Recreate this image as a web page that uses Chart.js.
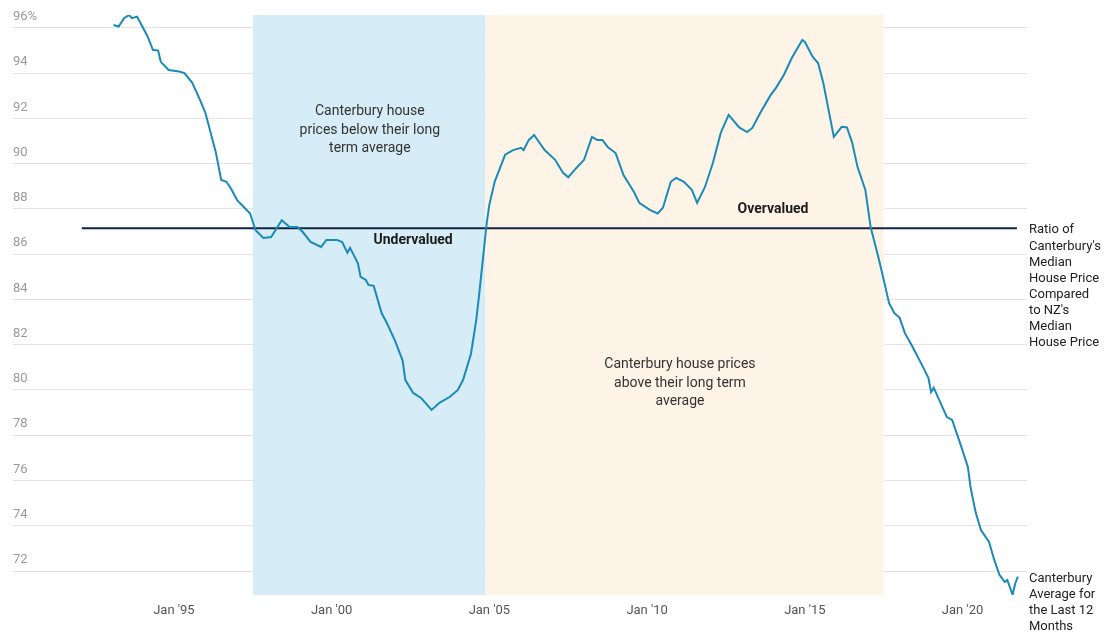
<!DOCTYPE html>
<html>
<head>
<meta charset="utf-8">
<script src="https://cdn.jsdelivr.net/npm/chart.js@4.4.0/dist/chart.umd.min.js"></script>
<style>
    html, body { margin: 0; padding: 0; background: #ffffff; }
    #wrap { position: relative; width: 1110px; height: 635px; }
</style>
</head>
<body>
<div id="wrap"><canvas id="ratioChart"></canvas></div>
<script>
// month of observation and ratio (%) of Canterbury median house price to NZ median
const months = [
    '1993-02','1993-04','1993-06','1993-08','1993-09','1993-11','1994-01','1994-03','1994-05','1994-07',
    '1994-08','1994-11','1995-03','1995-05','1995-08','1995-11','1996-01','1996-03','1996-05','1996-07',
    '1996-09','1996-11','1997-01','1997-02','1997-06','1997-08','1997-11','1998-02','1998-06','1998-09',
    '1998-12','1999-02','1999-05','1999-09','1999-11','2000-03','2000-05','2000-07','2000-08','2000-11',
    '2000-12','2001-02','2001-03','2001-05','2001-08','2001-10','2002-01','2002-04','2002-05','2002-08',
    '2002-11','2003-03','2003-06','2003-10','2004-01','2004-03','2004-06','2004-08','2004-09','2004-11',
    '2004-12','2005-01','2005-03','2005-07','2005-10','2006-01','2006-02','2006-04','2006-06','2006-10',
    '2007-02','2007-05','2007-07','2007-10','2008-01','2008-04','2008-06','2008-08','2008-10','2009-01',
    '2009-04','2009-08','2009-10','2010-02','2010-05','2010-07','2010-10','2010-12','2011-03','2011-06',
    '2011-08','2011-11','2012-02','2012-05','2012-08','2012-12','2013-03','2013-05','2013-08','2013-12',
    '2014-02','2014-05','2014-08','2014-12','2015-01','2015-04','2015-06','2015-08','2015-10','2015-12',
    '2016-03','2016-05','2016-07','2016-09','2016-12','2017-02','2017-05','2017-07','2017-09','2017-11',
    '2018-01','2018-03','2018-06','2018-10','2018-12','2019-01','2019-02','2019-07','2019-09','2019-12',
    '2020-03','2020-04','2020-06','2020-08','2020-11','2021-01','2021-03','2021-05','2021-06','2021-08',
    '2021-09','2021-10'
];
const ratio = [
    96.13, 96.06, 96.43, 96.57, 96.43, 96.5, 96.06, 95.62, 95.03, 95.0,
    94.5, 94.14, 94.07, 94.0, 93.57, 92.8, 92.24, 91.36, 90.47, 89.28,
    89.2, 88.84, 88.4, 88.27, 87.8, 87.07, 86.72, 86.76, 87.5, 87.2,
    87.2, 86.98, 86.54, 86.32, 86.63, 86.63, 86.54, 86.06, 86.28, 85.6,
    85.0, 84.86, 84.64, 84.6, 83.4, 82.96, 82.2, 81.3, 80.45, 79.87,
    79.65, 79.12, 79.43, 79.7, 80.0, 80.45, 81.6, 83.1, 84.1, 86.3,
    87.4, 88.2, 89.2, 90.4, 90.6, 90.7, 90.6, 91.05, 91.27, 90.6,
    90.17, 89.6, 89.4, 89.8, 90.17, 91.18, 91.05, 91.05, 90.74, 90.47,
    89.5, 88.75, 88.27, 87.96, 87.8, 88.05, 89.2, 89.37, 89.2, 88.84,
    88.27, 88.97, 90.03, 91.36, 92.16, 91.6, 91.4, 91.58, 92.24, 93.04,
    93.35, 93.92, 94.67, 95.47, 95.38, 94.72, 94.45, 93.57, 92.38, 91.18,
    91.63, 91.6, 90.92, 89.86, 88.84, 87.2, 85.84, 84.86, 83.85, 83.4,
    83.2, 82.52, 81.9, 81.0, 80.53, 79.9, 80.1, 78.8, 78.68, 77.66,
    76.6, 75.7, 74.57, 73.8, 73.3, 72.5, 71.83, 71.52, 71.6, 70.95,
    71.45, 71.75
];

// long term average line
const averageYears = [1992.08, 2021.72];
const averageValues = [87.15, 87.15];

// shaded periods (decimal years)
const belowPeriod = [1997.5, 2004.87];
const abovePeriod = [2004.87, 2017.5];

const yTicks = [72, 74, 76, 78, 80, 82, 84, 86, 88, 90, 92, 94, 96];
const xTicks = [1995, 2000, 2005, 2010, 2015, 2020];
const xTickLabels = ["Jan '95", "Jan '00", "Jan '05", "Jan '10", "Jan '15", "Jan '20"];

function toYear(m) {
    const parts = m.split('-');
    return Number(parts[0]) + (Number(parts[1]) - 1) / 12;
}

const linePoints = months.map((m, i) => ({ x: toYear(m), y: ratio[i] }));
const averagePoints = averageYears.map((yr, i) => ({ x: yr, y: averageValues[i] }));

// text notes, anchored in data coordinates
const notes = [
    { x: 2001.21, y: 92.29, lines: ['Canterbury house', 'prices below their long', 'term average'], bold: false, align: 'center', step: 18.5 },
    { x: 2011.04, y: 81.11, lines: ['Canterbury house prices', 'above their long term', 'average'], bold: false, align: 'center', step: 18.5 },
    { x: 2002.58, y: 86.59, lines: ['Undervalued'], bold: true, align: 'center', step: 18 },
    { x: 2013.99, y: 87.96, lines: ['Overvalued'], bold: true, align: 'center', step: 18 }
];
const sideNotes = [
    { y: 87.15, lines: ['Ratio of', "Canterbury's", 'Median', 'House Price', 'Compared', "to NZ's", 'Median', 'House Price'] },
    { y: 71.75, lines: ['Canterbury', 'Average for', 'the Last 12', 'Months'] }
];

const bandsPlugin = {
    id: 'bands',
    beforeDatasetsDraw(chart) {
        const { ctx, chartArea, scales } = chart;
        const x = scales.x;
        ctx.save();
        ctx.fillStyle = '#d6ecf6';
        let a = x.getPixelForValue(belowPeriod[0]), b = x.getPixelForValue(belowPeriod[1]);
        ctx.fillRect(a, chartArea.top, b - a, chartArea.bottom - chartArea.top);
        ctx.fillStyle = '#fdf4e7';
        a = x.getPixelForValue(abovePeriod[0]);
        b = x.getPixelForValue(abovePeriod[1]);
        ctx.fillRect(a, chartArea.top, b - a, chartArea.bottom - chartArea.top);
        ctx.restore();
    },
    afterDatasetsDraw(chart) {
        const { ctx, scales } = chart;
        ctx.save();
        ctx.textBaseline = 'middle';
        notes.forEach(n => {
            ctx.font = (n.bold ? 'bold ' : '') + '14px Roboto, sans-serif';
            ctx.fillStyle = n.bold ? '#1c1c1c' : '#333333';
            ctx.textAlign = n.align;
            const px = scales.x.getPixelForValue(n.x);
            const py = scales.y.getPixelForValue(n.y);
            n.lines.forEach((t, i) => ctx.fillText(t, px, py + i * n.step));
        });
        ctx.font = '13px Roboto, sans-serif';
        ctx.fillStyle = '#222222';
        ctx.textAlign = 'left';
        const right = chart.chartArea.right + 2;
        sideNotes.forEach(s => {
            const py = scales.y.getPixelForValue(s.y) + 2;
            s.lines.forEach((t, i) => ctx.fillText(t, right, py + i * 16.1));
        });
        ctx.restore();
    }
};

Chart.defaults.font.family = "Roboto, sans-serif";

new Chart(document.getElementById('ratioChart'), {
    type: 'line',
    data: {
        datasets: [
            {
                label: 'Ratio',
                data: linePoints,
                borderColor: '#1a8ab8',
                borderWidth: 2,
                pointRadius: 0,
                tension: 0,
                fill: false
            },
            {
                label: 'Long term average',
                data: averagePoints,
                borderColor: '#10243f',
                borderWidth: 2,
                pointRadius: 0,
                fill: false
            }
        ]
    },
    options: {
        responsive: true,
        maintainAspectRatio: false,
        animation: false,
        layout: { padding: { left: 13, right: 83, top: 15, bottom: 0 } },
        plugins: { legend: { display: false }, tooltip: { enabled: false } },
        scales: {
            x: {
                type: 'linear',
                min: 1989.9,
                max: 2022.04,
                afterBuildTicks: (scale) => { scale.ticks = xTicks.map(v => ({ value: v })); },
                afterFit: (scale) => { scale.height = 40; },
                grid: { display: false, drawTicks: false },
                border: { display: false },
                ticks: {
                    padding: 8,
                    color: '#555555',
                    font: { size: 13 },
                    maxRotation: 0,
                    callback: (v) => xTickLabels[xTicks.indexOf(v)]
                }
            },
            y: {
                min: 70.94,
                max: 96.57,
                afterBuildTicks: (scale) => { scale.ticks = yTicks.map(v => ({ value: v })); },
                afterFit: (scale) => { scale.width = 0; },
                grid: { color: '#e4e4e4', lineWidth: 1, drawTicks: false },
                border: { display: false },
                ticks: {
                    mirror: true,
                    padding: 0,
                    labelOffset: -11,
                    color: '#9a9a9a',
                    font: { size: 13 },
                    callback: (v) => v === 96 ? '96%' : String(v)
                }
            }
        }
    },
    plugins: [bandsPlugin]
});
</script>
</body>
</html>
